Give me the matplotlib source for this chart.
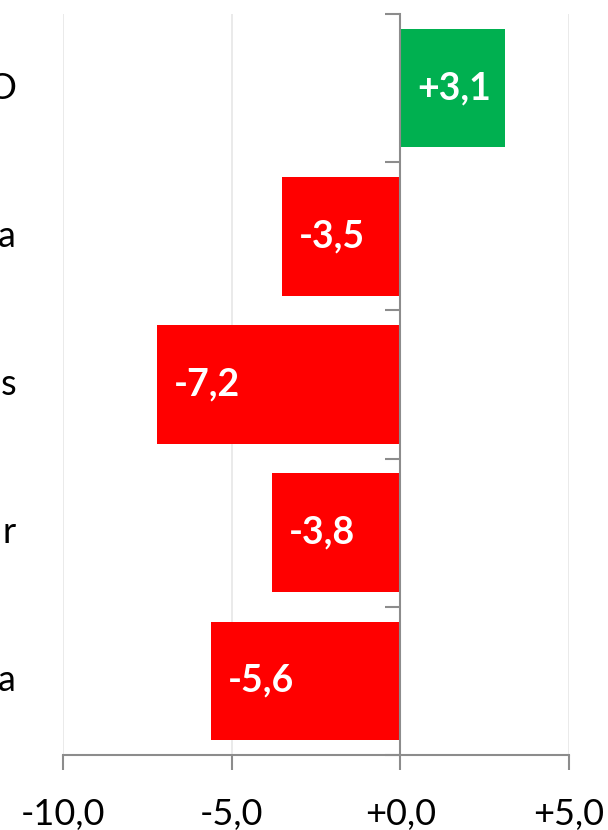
import matplotlib.pyplot as plt
from matplotlib.transforms import blended_transform_factory
import numpy as np

# data (category names are cut off at the left edge of the picture)
categories = ['O', 'a', 's', 'r', 'a']
values = [3.1, -3.5, -7.2, -3.8, -5.6]
xticks = [-10, -5, 0, 5]
xtick_labels = ['-10,0', '-5,0', '+0,0', '+5,0']

plt.rcParams['font.family'] = ['Lato', 'DejaVu Sans']

fig = plt.figure(figsize=(6.08, 8.30), dpi=100)
ax = fig.add_axes([63/608, 75/830, 506/608, 741/830])

n = len(values)
ypos = np.arange(n)[::-1]  # first category at top
colors = ['#00B050' if v > 0 else '#FF0000' for v in values]
bars = ax.barh(ypos, values, height=0.8, color=colors, zorder=3)

ax.set_xlim(-10, 5)
ax.set_ylim(-0.5, n - 0.5)

# vertical gridlines
for xt in xticks:
    if xt != 0:
        ax.axvline(xt, color='#e6e6e6', lw=1.2, zorder=0)

# spines
for s in ['top', 'right']:
    ax.spines[s].set_visible(False)
ax.spines['left'].set_position(('data', 0))
ax.spines['left'].set_color('#8c8c8c')
ax.spines['left'].set_linewidth(1.5)
ax.spines['left'].set_zorder(4)
ax.spines['bottom'].set_color('#8c8c8c')
ax.spines['bottom'].set_linewidth(1.5)

# y ticks at category boundaries, no labels
ax.set_yticks(np.arange(-0.5, n, 1.0))
ax.set_yticklabels([])
ax.tick_params(axis='y', length=11, width=1.5, color='#8c8c8c', direction='out')

ax.set_xticks(xticks)
ax.set_xticklabels(xtick_labels, fontsize=26, color='#000000')
ax.tick_params(axis='x', length=11, width=1.5, color='#8c8c8c', pad=20)

# category labels, placed at far left (clipped by figure edge)
trans = blended_transform_factory(ax.transAxes, ax.transData)
for y, c in zip(ypos, categories):
    ax.text((16 - 63) / 506, y, c, transform=trans, ha='right', va='center',
            fontsize=26, clip_on=False)

# value labels inside bar ends
for y, v in zip(ypos, values):
    lab = ('+' if v > 0 else '') + ('%.1f' % v).replace('.', ',')
    if v > 0:
        ax.text(v - 0.4, y, lab, ha='right', va='center', color='white',
                fontsize=27, fontweight='bold', zorder=5)
    else:
        ax.text(v + 0.5, y, lab, ha='left', va='center', color='white',
                fontsize=27, fontweight='bold', zorder=5)

fig.savefig('out.png', dpi=100)
